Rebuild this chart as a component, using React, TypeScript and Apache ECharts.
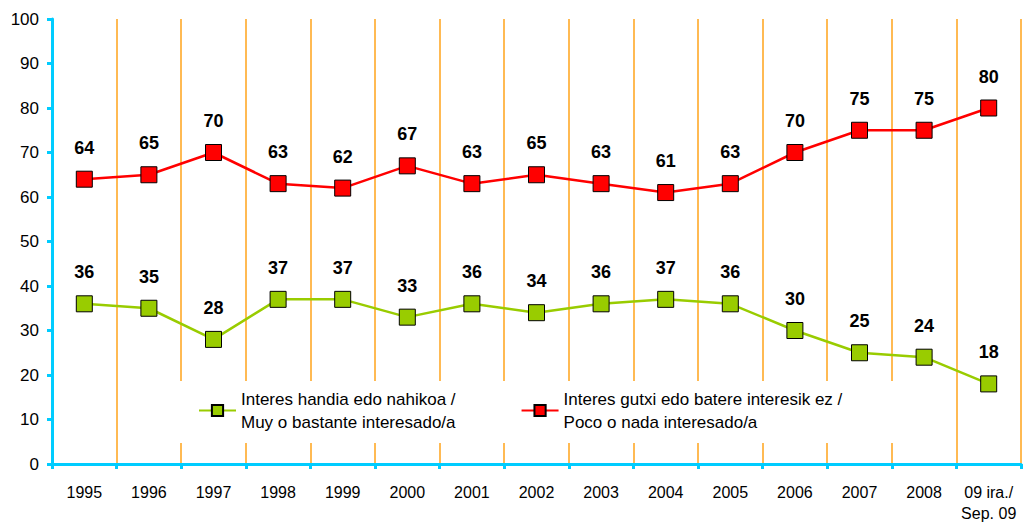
import React, { useEffect, useRef } from "react";
import * as echarts from "echarts";

const categories = ["1995", "1996", "1997", "1998", "1999", "2000", "2001", "2002", "2003", "2004", "2005", "2006", "2007", "2008", "09 ira./\nSep. 09"];
const highInterest = [36, 35, 28, 37, 37, 33, 36, 34, 36, 37, 36, 30, 25, 24, 18];
const lowInterest = [64, 65, 70, 63, 62, 67, 63, 65, 63, 61, 63, 70, 75, 75, 80];
const highName = "Interes handia edo nahikoa /\nMuy o bastante interesado/a";
const lowName = "Interes gutxi edo batere interesik ez /\nPoco o nada interesado/a";

const FONT = "'Liberation Sans', Arial, sans-serif";

export default function App() {
  const ref = useRef<HTMLDivElement>(null);
  useEffect(() => {
    const chart = echarts.init(ref.current!, null, { renderer: "svg" });
    const label = {
      show: true,
      position: "top" as const,
      distance: 14,
      fontFamily: FONT,
      fontWeight: "bold" as const,
      fontSize: 18,
      color: "#000",
    };
    chart.setOption({
      animation: false,
      backgroundColor: "#fff",
      textStyle: { fontFamily: FONT },
      grid: { left: 52, right: 2, top: 19, bottom: 61 },
      graphic: [
        {
          type: "rect",
          z: 1,
          shape: { x: 150, y: 381, width: 780, height: 62 },
          style: { fill: "#fff" },
        },
      ],
      legend: {
        left: 193,
        top: 371,
        itemWidth: 37,
        itemHeight: 14,
        itemGap: 65,
        data: [highName, lowName],
        textStyle: {
          fontFamily: FONT,
          fontSize: 17,
          color: "#000",
          lineHeight: 23,
          padding: [23, 0, 0, 0],
        },
      },
      xAxis: {
        type: "category",
        data: categories,
        boundaryGap: true,
        axisLine: { lineStyle: { color: "#00ccff", width: 3 } },
        axisTick: { show: true, length: 5, lineStyle: { color: "#00ccff", width: 3 } },
        axisLabel: {
          interval: 0,
          margin: 18,
          fontFamily: FONT,
          fontSize: 16,
          color: "#000",
          lineHeight: 21,
        },
        splitLine: { show: true, interval: 0, lineStyle: { color: "#ffa31a", width: 1.5 } },
      },
      yAxis: {
        type: "value",
        min: 0,
        max: 100,
        interval: 10,
        axisLine: { show: true, lineStyle: { color: "#00ccff", width: 3 } },
        axisTick: { show: true, length: 5, lineStyle: { color: "#00ccff", width: 3 } },
        axisLabel: { margin: 13, fontFamily: FONT, fontSize: 17, color: "#000" },
        splitLine: { show: false },
      },
      series: [
        {
          name: highName,
          type: "line",
          data: highInterest,
          symbol: "rect",
          symbolSize: 16,
          lineStyle: { color: "#99cc00", width: 2.5 },
          itemStyle: { color: "#99cc00", borderColor: "#000", borderWidth: 1 },
          label,
          z: 3,
        },
        {
          name: lowName,
          type: "line",
          data: lowInterest,
          symbol: "rect",
          symbolSize: 16,
          lineStyle: { color: "#ff0000", width: 2.5 },
          itemStyle: { color: "#ff0000", borderColor: "#000", borderWidth: 1 },
          label,
          z: 3,
        },
      ],
    });
    return () => chart.dispose();
  }, []);
  return (
    <div
      ref={ref}
      style={{ position: "fixed", left: 0, top: 0, width: 1023, height: 525 }}
    />
  );
}
